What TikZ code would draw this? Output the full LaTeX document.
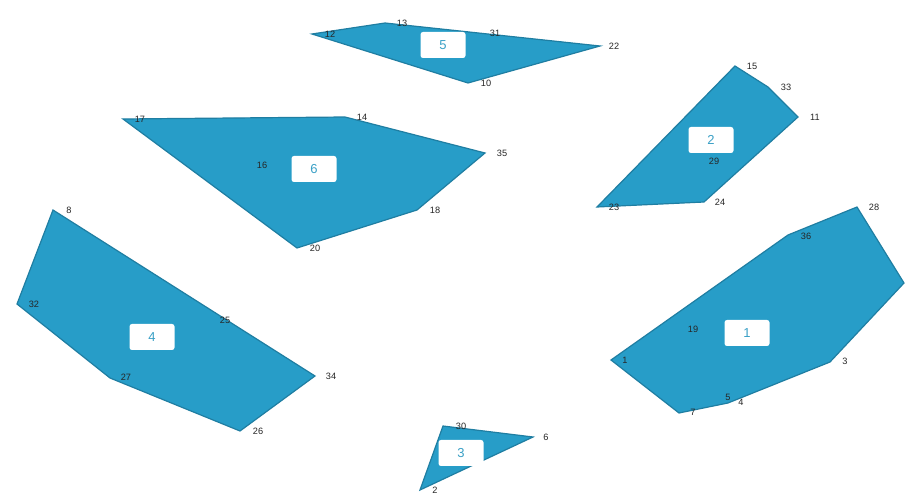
\documentclass[tikz,border=0pt]{standalone}
\usepackage{fontspec}
\setmainfont{Liberation Sans}
\usetikzlibrary{positioning}
\definecolor{regfill}{HTML}{279DC8}
\definecolor{regline}{HTML}{1F7EA2}
\definecolor{tagtext}{HTML}{3AA0C6}

\begin{document}
\begin{tikzpicture}[
  x=1pt,y=-1pt,
  region/.style={fill=regfill,draw=regline,line width=1.2pt,line join=miter},
  tag/.style={fill=white,rounded corners=2.5pt,minimum width=45pt,
              minimum height=26pt,inner sep=0pt,text=tagtext,
              font=\fontsize{13}{13}\selectfont},
  vlab/.style={font=\fontsize{9.2}{9.2}\selectfont,text=black!85,inner sep=0pt}
]
\useasboundingbox (0,0) rectangle (914,494);

% region 5
\coordinate (v12) at (312,34);
\coordinate (v13) at (385,23);
\coordinate (v22) at (600,46);
\coordinate (v10) at (468,83);
\draw[region] (v12)--(v13)--(v22)--(v10)--cycle;
\node[tag] (t5) at (443,45) {5};
\node[vlab] (l12) at (330,34) {12};
\node[vlab] (l13) at (402,23) {13};
\node[vlab] (l31) at (495,33) {31};
\node[vlab] (l22) at (614,46) {22};
\node[vlab] (l10) at (486,83) {10};

% region 6
\coordinate (v17) at (123,119);
\coordinate (v14) at (345,117);
\coordinate (v35) at (485,153);
\coordinate (v18) at (417,210);
\coordinate (v20) at (297,248);
\draw[region] (v17)--(v14)--(v35)--(v18)--(v20)--cycle;
\node[tag] (t6) at (314,169) {6};
\node[vlab] (l17) at (140,119) {17};
\node[vlab] (l14) at (362,117) {14};
\node[vlab] (l35) at (502,153) {35};
\node[vlab] (l18) at (435,210) {18};
\node[vlab] (l20) at (315,248) {20};
\node[vlab] (l16) at (262,165) {16};

% region 2
\coordinate (v15) at (735,66);
\coordinate (v33) at (768,87);
\coordinate (v11) at (798,117);
\coordinate (v24) at (704,202);
\coordinate (v23) at (597,207);
\draw[region] (v15)--(v33)--(v11)--(v24)--(v23)--cycle;
\node[tag] (t2) at (711,140) {2};
\node[vlab] (l15) at (752,66) {15};
\node[vlab] (l33) at (786,87) {33};
\node[vlab] (l11) at (815,117) {11};
\node[vlab] (l24) at (720,202) {24};
\node[vlab] (l23) at (614,207) {23};
\node[vlab] (l29) at (714,161) {29};

% region 4
\coordinate (v8) at (53,210);
\coordinate (v34) at (315,376);
\coordinate (v26) at (240,431);
\coordinate (v27) at (110,378);
\coordinate (v32) at (17,304);
\draw[region] (v8)--(v34)--(v26)--(v27)--(v32)--cycle;
\node[tag] (t4) at (152,337) {4};
\node[vlab] (l8) at (69,210) {8};
\node[vlab] (l25) at (225,320) {25};
\node[vlab] (l34) at (331,376) {34};
\node[vlab] (l26) at (258,431) {26};
\node[vlab] (l27) at (126,377) {27};
\node[vlab] (l32) at (34,304) {32};

% region 1
\coordinate (v28) at (857,207);
\coordinate (vr) at (904,283);
\coordinate (v3) at (830,362);
\coordinate (v5) at (728,403);
\coordinate (v7) at (679,413);
\coordinate (v1) at (611,360);
\coordinate (v36) at (788,235);
\draw[region] (v28)--(vr)--(v3)--(v5)--(v7)--(v1)--(v36)--cycle;
\node[tag] (t1) at (747,333) {1};
\node[vlab] (l28) at (874,207) {28};
\node[vlab] (l36) at (806,236) {36};
\node[vlab] (l3) at (845,361) {3};
\node[vlab] (l5) at (728,397) {5};
\node[vlab] (l4) at (741,402) {4};
\node[vlab] (l7) at (693,412) {7};
\node[vlab] (l1) at (625,360) {1};
\node[vlab] (l19) at (693,329) {19};

% region 3
\coordinate (v30) at (443,426);
\coordinate (v6) at (533,437);
\coordinate (v2) at (420,490);
\draw[region] (v30)--(v6)--(v2)--cycle;
\node[tag] (t3) at (461,453) {3};
\node[vlab] (l30) at (461,426) {30};
\node[vlab] (l6) at (546,437) {6};
\node[vlab] (l2) at (435,490) {2};
\end{tikzpicture}
\end{document}
